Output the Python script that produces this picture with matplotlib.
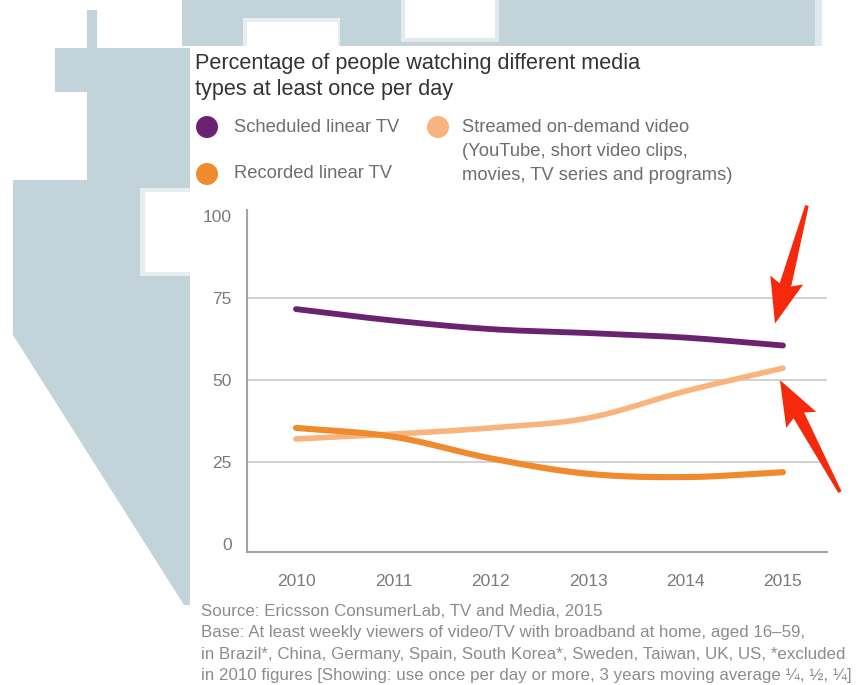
import numpy as np
import matplotlib
matplotlib.use("Agg")
import matplotlib.pyplot as plt
from matplotlib.patches import Polygon, Circle
from matplotlib.transforms import IdentityTransform

# ---- data -------------------------------------------------------------
years = [2010, 2011, 2012, 2013, 2014, 2015]
scheduled_linear = [71.5, 68.0, 65.4, 64.2, 62.8, 60.4]
recorded_linear = [35.3, 32.6, 26.0, 21.3, 20.3, 21.8]
streamed_on_demand = [31.9, 33.4, 35.3, 38.3, 46.5, 53.5]
y_ticks = [0, 25, 50, 75, 100]

title_lines = ["Percentage of people watching different media",
               "types at least once per day"]
footer_lines = [
    "Source: Ericsson ConsumerLab, TV and Media, 2015",
    "Base: At least weekly viewers of video/TV with broadband at home, aged 16\u201359,",
    "in Brazil*, China, Germany, Spain, South Korea*, Sweden, Taiwan, UK, US, *excluded",
    "in 2010 figures [Showing: use once per day or more, 3 years moving average \u00bc, \u00bd, \u00bc]",
]

PURPLE = "#6a2370"
ORANGE = "#f08a2e"
LIGHT_ORANGE = "#f8b47c"
RED = "#f7290c"
BG_SHAPE = "#c3d3da"
FONT = ["Liberation Sans", "DejaVu Sans"]

W, H = 868, 685
fig = plt.figure(figsize=(W / 100, H / 100), dpi=100)
fig.patch.set_facecolor("white")
plt.rcParams["font.family"] = FONT


def px(x, y):
    """pixel position measured from the top-left corner -> display coords"""
    return (x, H - y)


def rect(x0, y0, x1, y1, color):
    pts = [px(x0, y0), px(x1, y0), px(x1, y1), px(x0, y1)]
    fig.patches.append(Polygon(pts, closed=True, transform=IdentityTransform(),
                               facecolor=color, edgecolor="none", zorder=-10))


def poly(points, color):
    fig.patches.append(Polygon([px(*p) for p in points], closed=True,
                               transform=IdentityTransform(),
                               facecolor=color, edgecolor="none", zorder=-10))


# ---- pale backdrop shape ----------------------------------------------
rect(182, 0, 815, 46, BG_SHAPE)
rect(815, 0, 822, 46, "#dfe8ec")
rect(243, 18, 340, 46, "#e6eef1")
rect(247, 22, 338, 46, "white")
rect(401, 0, 499, 42, "#e2eaee")
rect(405, 0, 495, 38, "white")
rect(87, 10, 97, 50, BG_SHAPE)
rect(55, 48, 190, 92, BG_SHAPE)
rect(87, 92, 190, 182, BG_SHAPE)
poly([(13, 180), (190, 180), (190, 605), (184, 605), (13, 335)], BG_SHAPE)
rect(140, 188, 190, 276, "#e6eef1")
rect(145, 192, 190, 272, "white")
# white card behind the chart
rect(190, 46, W, H, "white")

# ---- axes ---------------------------------------------------------------
ax_left, ax_right = 247, 826.5
ax_top, ax_bottom = 210, 551.7
ax = fig.add_axes([ax_left / W, (H - ax_bottom) / H,
                   (ax_right - ax_left) / W, (ax_bottom - ax_top) / H])
ax.set_facecolor("none")
ax.set_xlim(2009.497, 2015.447)
ax.set_ylim(-2.44, 101.7)


def smooth(xs, ys, n=200):
    """Catmull-Rom style cubic Hermite curve through the given points."""
    xs = np.asarray(xs, float)
    ys = np.asarray(ys, float)
    m = np.empty_like(ys)
    m[1:-1] = (ys[2:] - ys[:-2]) / (xs[2:] - xs[:-2])
    m[0] = (ys[1] - ys[0]) / (xs[1] - xs[0])
    m[-1] = (ys[-1] - ys[-2]) / (xs[-1] - xs[-2])
    out_x, out_y = [], []
    for i in range(len(xs) - 1):
        h = xs[i + 1] - xs[i]
        t = np.linspace(0, 1, n // (len(xs) - 1), endpoint=(i == len(xs) - 2))
        h00 = 2 * t**3 - 3 * t**2 + 1
        h10 = t**3 - 2 * t**2 + t
        h01 = -2 * t**3 + 3 * t**2
        h11 = t**3 - t**2
        out_x.append(xs[i] + t * h)
        out_y.append(h00 * ys[i] + h10 * h * m[i] + h01 * ys[i + 1] + h11 * h * m[i + 1])
    return np.concatenate(out_x), np.concatenate(out_y)


for yv in [25, 50, 75]:
    ax.axhline(yv, color="#c9c9c9", lw=1.2, zorder=1)

for series, color, lw in [(streamed_on_demand, LIGHT_ORANGE, 4.0),
                          (recorded_linear, ORANGE, 4.4),
                          (scheduled_linear, PURPLE, 4.2)]:
    sx, sy = smooth(years, series)
    ax.plot(sx, sy, color=color, lw=lw, solid_capstyle="round", zorder=3)

for side in ["top", "right"]:
    ax.spines[side].set_visible(False)
for side in ["left", "bottom"]:
    ax.spines[side].set_color("#a3a3a3")
    ax.spines[side].set_linewidth(1.5)

ax.set_yticks(y_ticks)
ax.set_yticklabels([str(v) for v in y_ticks])
ax.set_xticks(years)
ax.set_xticklabels([str(y) for y in years])
ax.tick_params(axis="both", length=0, labelsize=12.5, labelcolor="#7a7a7a")
ax.tick_params(axis="y", pad=11)
ax.tick_params(axis="x", pad=16)

# ---- pointer arrows at the 2015 values ------------------------------------
def arrow(tip, tail, head_len=40, head_half=17, tail_half=1.8, neck_half=6):
    tip = np.asarray(tip, float)
    tail = np.asarray(tail, float)
    d = tip - tail
    d /= np.hypot(*d)
    nrm = np.array([-d[1], d[0]])
    neck = tip - d * head_len
    barb = neck - d * 5
    pts = [tail + nrm * tail_half, neck + nrm * neck_half, barb + nrm * head_half,
           tip, barb - nrm * head_half, neck - nrm * neck_half, tail - nrm * tail_half]
    fig.patches.append(Polygon(pts, closed=True, transform=IdentityTransform(),
                               facecolor=RED, edgecolor="none", zorder=10))


fig.canvas.draw()
end_sched = ax.transData.transform((years[-1], scheduled_linear[-1]))
end_stream = ax.transData.transform((years[-1], streamed_on_demand[-1]))
tip1 = end_sched + np.array([-8, 22])
arrow(tip1, tip1 + np.array([32, 118]))
tip2 = end_stream + np.array([-3, -12])
arrow(tip2, tip2 + np.array([60, -112]))

# ---- title, legend, footer -----------------------------------------------
def ftext(x, y, s, **kw):
    fig.text(x / W, 1 - y / H, s, va="center", ha="left", **kw)


ftext(195, 63, title_lines[0], fontsize=15.6, color="#333333")
ftext(195, 89, title_lines[1], fontsize=15.6, color="#333333")

legend_items = [
    (207, 127, PURPLE, 234, ["Scheduled linear TV"]),
    (207, 174, ORANGE, 234, ["Recorded linear TV"]),
    (438, 127, LIGHT_ORANGE, 462, ["Streamed on-demand video",
                                   "(YouTube, short video clips,",
                                   "movies, TV series and programs)"]),
]
for cx, cy, color, tx, lines in legend_items:
    fig.patches.append(Circle(px(cx, cy), 11, transform=IdentityTransform(),
                              facecolor=color, edgecolor="none", zorder=5))
    for k, line in enumerate(lines):
        ftext(tx, cy + 24 * k, line, fontsize=13.2, color="#6e6e6e")

for k, line in enumerate(footer_lines):
    ftext(201, 611 + 21.5 * k, line, fontsize=12.2, color="#8c8c8c")

fig.savefig("out.png", dpi=100, facecolor="white")
